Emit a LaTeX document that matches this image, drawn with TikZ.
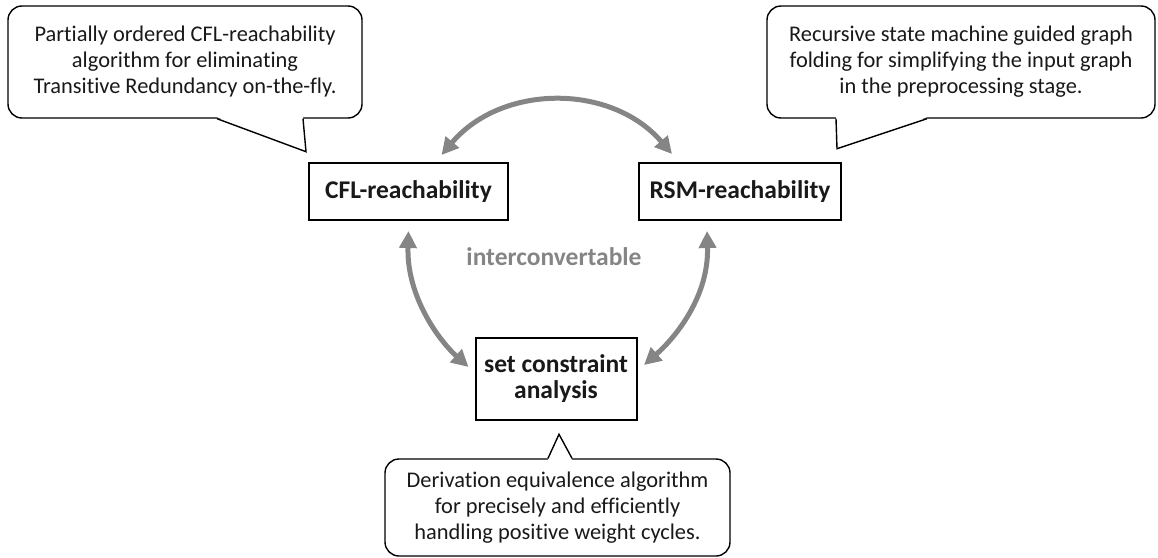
\documentclass[tikz,border=0pt]{standalone}
\usepackage{fontspec}
\setmainfont[Ligatures=NoCommon]{Carlito}
\usetikzlibrary{arrows.meta,calc}
\definecolor{arrowgray}{RGB}{133,133,133}
\definecolor{inkgray}{RGB}{25,25,25}
\begin{document}
\begin{tikzpicture}[x=1pt,y=-1pt,
  note/.style={draw=black,line width=1.4pt,rounded corners=14pt,fill=white,
    align=center,inner sep=0pt,text=inkgray,font=\fontsize{22.4}{26}\selectfont},
  concept/.style={draw=black,line width=2pt,fill=white,align=center,inner sep=0pt,
    text=inkgray,font=\fontsize{25.5}{26}\selectfont\bfseries},
  tail/.style={draw=black,line width=1.4pt,line join=miter},
  link/.style={draw=arrowgray,line width=5pt,
    {Triangle[length=17pt,width=17pt]}-{Triangle[length=17pt,width=17pt]}},
]
\useasboundingbox (0,0) rectangle (1158,557);

% callouts
\node[note,minimum width=354pt,minimum height=112pt] (lc) at (185,62)
  {Partially ordered CFL-reachability\\algorithm for eliminating\\Transitive Redundancy on-the-fly.};
\node[note,minimum width=388pt,minimum height=112pt] (rc) at (961,62)
  {Recursive state machine guided graph\\folding for simplifying the input graph\\in the preprocessing stage.};
\node[note,minimum width=345pt,minimum height=97pt] (bc) at (557.5,507.5)
  {Derivation equivalence algorithm\\for precisely and efficiently\\handling positive weight cycles.};

% callout pointers
\fill[white] ($(lc.south)+(32,-1.5)$) -- ($(lc.south)+(121,33)$) -- ($(lc.south)+(118,-1.5)$) -- cycle;
\draw[tail] ($(lc.south)+(32,0)$) -- ($(lc.south)+(121,33)$) -- ($(lc.south)+(118,0)$);
\fill[white] ($(rc.south)+(-125,-1.5)$) -- ($(rc.south)+(-124,30)$) -- ($(rc.south)+(-34,-1.5)$) -- cycle;
\draw[tail] ($(rc.south)+(-125,0)$) -- ($(rc.south)+(-124,30)$) -- ($(rc.south)+(-34,0)$);
\fill[white] ($(bc.north)+(-9.5,1.5)$) -- ($(bc.north)+(1.5,-24)$) -- ($(bc.north)+(14.5,1.5)$) -- cycle;
\draw[tail] ($(bc.north)+(-9.5,0)$) -- ($(bc.north)+(1.5,-24)$) -- ($(bc.north)+(14.5,0)$);

% concept boxes
\node[concept,minimum width=199pt,minimum height=57pt] (cfl) at (408.5,191.5) {CFL-reachability};
\node[concept,minimum width=202pt,minimum height=57pt] (rsm) at (740,191.5) {RSM-reachability};
\node[concept,minimum width=161pt,minimum height=82pt] (set) at (556,379) {set constraint\\analysis};
\node[text=arrowgray,font=\fontsize{25.5}{26}\selectfont\bfseries] (ic) at (554,257) {interconvertable};

% conversions
\draw[link] ($(cfl.north)+(33,-7)$) .. controls +(60,-71) and +(-61,-71) .. ($(rsm.north)+(-68,-8)$);
\draw[link] ($(cfl.south)+(0,10)$) .. controls +(-2,65) and +(-30,-27) .. ($(set.west)+(-6,-12)$);
\draw[link] ($(rsm.south)+(-33,10)$) .. controls +(2,65) and +(32,-28) .. ($(set.east)+(6.5,-14)$);
\end{tikzpicture}
\end{document}
